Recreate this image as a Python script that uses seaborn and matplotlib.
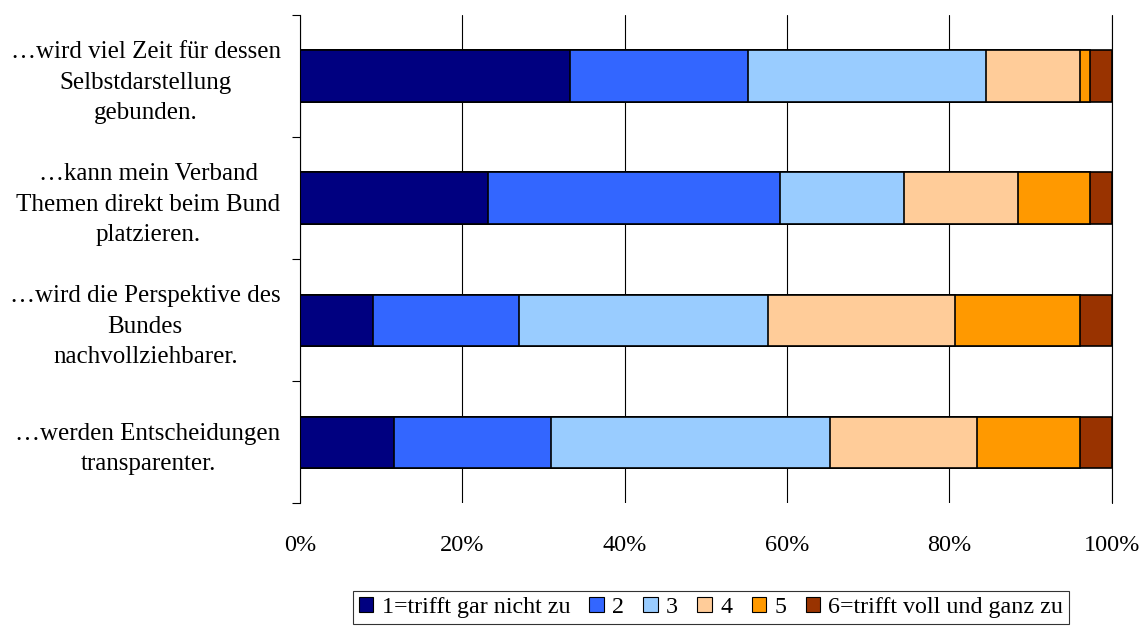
import matplotlib
matplotlib.use("Agg")
import matplotlib.pyplot as plt
from matplotlib.patches import Patch
import seaborn as sns
import pandas as pd
import numpy as np

statements = [
    "\u2026wird viel Zeit für dessen\nSelbstdarstellung\ngebunden.",
    "\u2026kann mein Verband\nThemen direkt beim Bund\nplatzieren.",
    "\u2026wird die Perspektive des\nBundes\nnachvollziehbarer.",
    "\u2026werden Entscheidungen\ntransparenter.",
]
levels = ["1=trifft gar nicht zu", "2", "3", "4", "5", "6=trifft voll und ganz zu"]
colors = ["#000080", "#3366FF", "#99CCFF", "#FFCC99", "#FF9900", "#993300"]

# shares in percent, one list per answer level (rows follow statements)
lvl1 = [33.3, 23.2, 9.0, 11.6]
lvl2 = [21.9, 35.9, 18.0, 19.3]
lvl3 = [29.3, 15.3, 30.6, 34.4]
lvl4 = [11.6, 14.0, 23.1, 18.1]
lvl5 = [1.2, 8.9, 15.4, 12.7]
lvl6 = [2.7, 2.7, 3.9, 3.9]

shares = np.array([lvl1, lvl2, lvl3, lvl4, lvl5, lvl6])
cum = shares.cumsum(axis=0)

rows = []
for i, lvl in enumerate(levels):
    for j, st in enumerate(statements):
        rows.append({"statement": st, "level": lvl, "cum": cum[i, j]})
data = pd.DataFrame(rows)

sns.set_theme(style="white")
plt.rcParams["font.family"] = ["Liberation Serif", "DejaVu Serif"]
plt.rcParams["text.color"] = "black"
plt.rcParams["xtick.color"] = "black"
plt.rcParams["ytick.color"] = "black"
plt.rcParams["axes.labelcolor"] = "black"

fig = plt.figure(figsize=(11.45, 6.26), dpi=100)
ax = fig.add_axes([0.262, 0.196, 0.709, 0.780])

# stack by overdrawing cumulative totals, largest first
for lvl, col in reversed(list(zip(levels, colors))):
    sns.barplot(
        data=data[data["level"] == lvl],
        x="cum",
        y="statement",
        order=statements,
        orient="h",
        color=col,
        saturation=1,
        width=0.42,
        edgecolor="black",
        linewidth=1.2,
        errorbar=None,
        ax=ax,
    )

ax.set_xlim(0, 100)
ax.set_ylim(3.5, -0.5)
ax.set_xticks(range(0, 101, 20))
ax.set_xticklabels([f"{v}%" for v in range(0, 101, 20)], fontsize=17.5, color="black")
ax.tick_params(axis="x", length=0, pad=23)
ax.set_yticks(range(len(statements)))
ax.set_yticklabels(statements, fontsize=18, multialignment="center", linespacing=1.5, color="black")
ax.set_yticks(np.arange(-0.5, 4, 1), minor=True)
ax.tick_params(axis="y", which="major", length=0, pad=14)
ax.tick_params(axis="y", which="minor", length=6, width=0.8, direction="out", color="black", left=True)
ax.set_xlabel("")
ax.set_ylabel("")

ax.grid(axis="x", color="black", linewidth=0.8)
ax.axvline(100, color="black", linewidth=0.8, clip_on=False, zorder=0)
ax.set_axisbelow(True)
for side in ["top", "right", "bottom"]:
    ax.spines[side].set_visible(False)
ax.spines["left"].set_color("black")
ax.spines["left"].set_linewidth(0.8)

handles = [Patch(facecolor=c, edgecolor="black", linewidth=0.8) for c in colors]
leg = fig.legend(
    handles,
    levels,
    loc="lower center",
    bbox_to_anchor=(0.621, 0.003),
    ncol=6,
    fontsize=17.3,
    frameon=True,
    fancybox=False,
    handlelength=0.6,
    handleheight=0.6,
    handletextpad=0.35,
    columnspacing=0.8,
    borderpad=0.25,
    borderaxespad=0,
)
leg.get_frame().set_edgecolor("black")
leg.get_frame().set_linewidth(0.8)
for t in leg.get_texts():
    t.set_color("black")

plt.savefig("out.png", dpi=100)
